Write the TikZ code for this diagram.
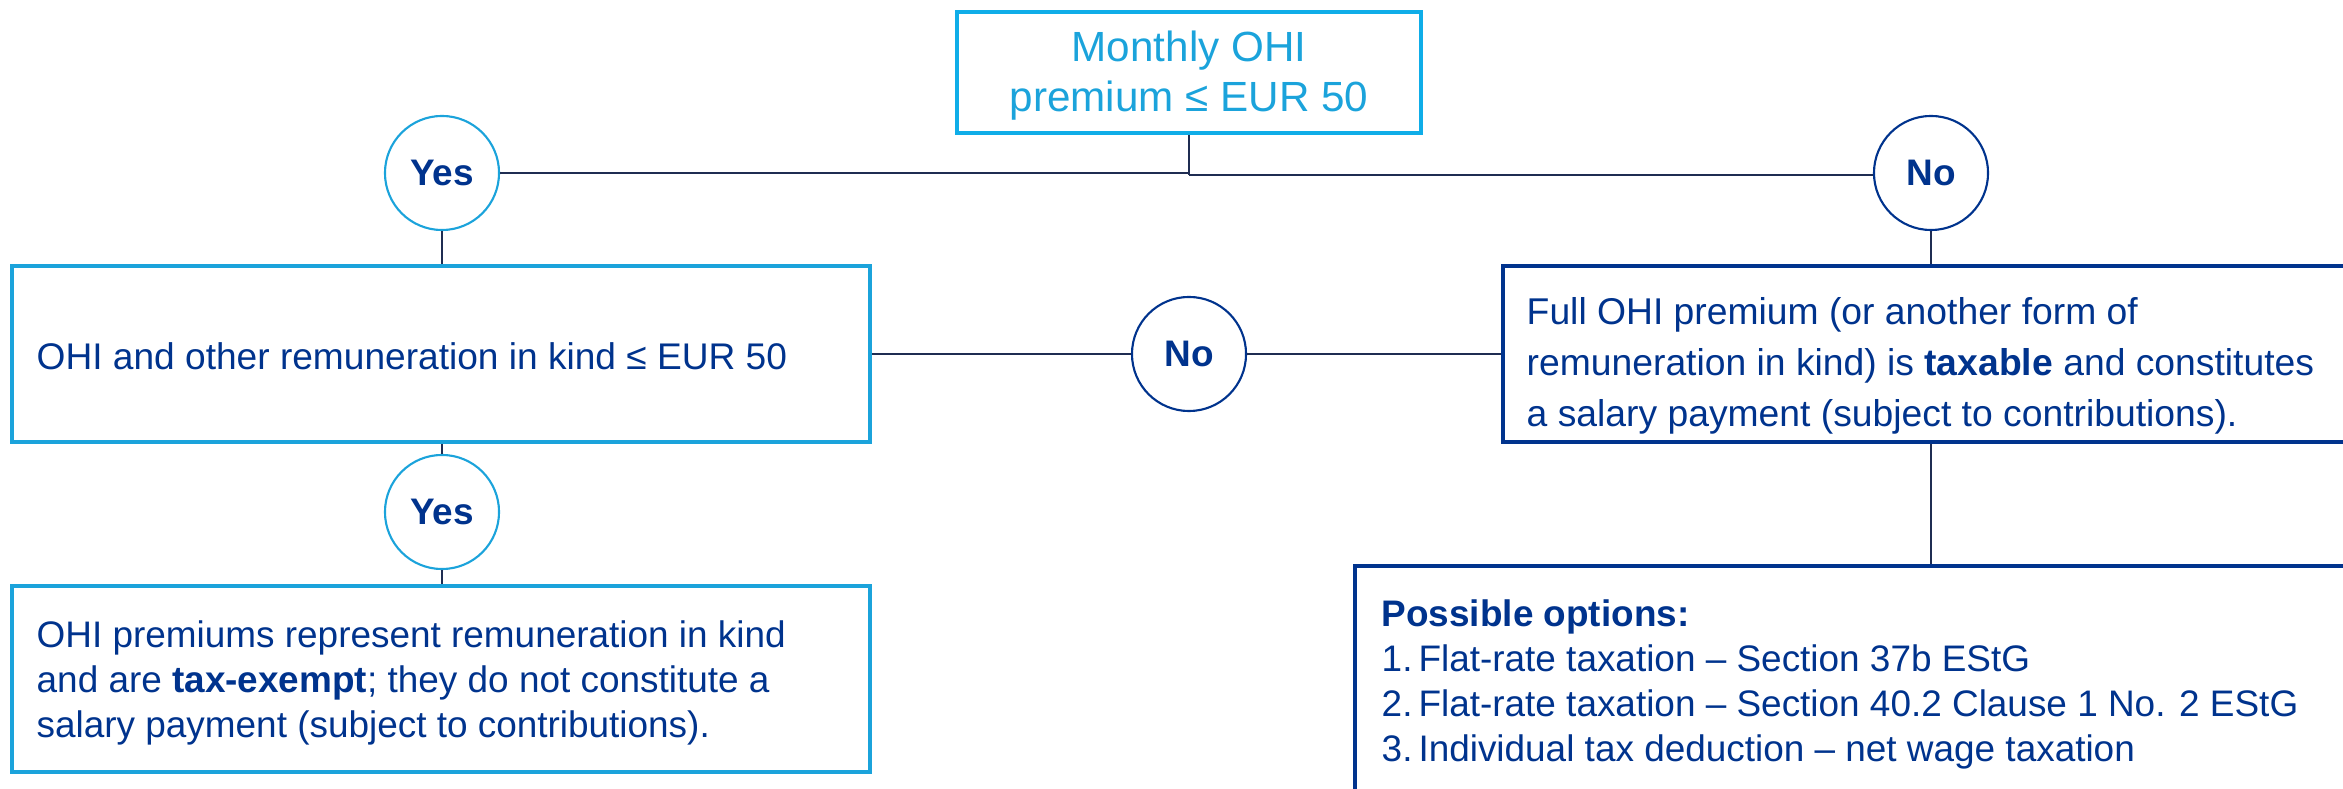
\documentclass[tikz,border=0pt]{standalone}
\usepackage{fontspec}
\setmainfont{Liberation Sans}
\definecolor{cyanb}{HTML}{1BA3DB}
\definecolor{cyant}{HTML}{0FADE8}
\definecolor{navy}{HTML}{00338D}
\definecolor{lineb}{HTML}{1F2D52}
\begin{document}
\begin{tikzpicture}[x=0.01cm,y=-0.01cm,
  boxc/.style={draw=cyanb, line width=1.15pt, rectangle, inner sep=0},
  boxn/.style={draw=navy, line width=1.15pt, rectangle, inner sep=0},
  circc/.style={circle, draw=cyanb, line width=0.6pt, minimum size=1.14cm, inner sep=0, font=\fontsize{10.5}{12}\selectfont\bfseries, text=navy, fill=white},
  circn/.style={circle, draw=navy, line width=0.6pt, minimum size=1.14cm, inner sep=0, font=\fontsize{10.5}{12}\selectfont\bfseries, text=navy, fill=white},
  conn/.style={draw=lineb, line width=0.6pt},
  txt/.style={text=navy, align=left, anchor=west, inner sep=0}
]
\useasboundingbox (0,0) rectangle (2343,789);
\begin{scope}
\clip (0,0) rectangle (2343,789);
% boxes
\node[draw=cyant, line width=1pt, rectangle, inner sep=0, minimum width=4.64cm, minimum height=1.21cm] (top) at (1189,72.5) {};
\node[text=cyanb, align=center, inner sep=0, font=\fontsize{12}{14.2}\selectfont] (toptxt) at (1189,76) {Monthly OHI\\premium ≤ EUR 50};
\node[boxc, minimum width=8.58cm, minimum height=1.76cm] (box1) at (441,354) {};
\node[txt, font=\fontsize{10.55}{14.5}\selectfont] (box1txt) at (36,356) {OHI and other remuneration in kind ≤ EUR 50};
\node[boxn, minimum width=8.70cm, minimum height=1.76cm] (box2) at (1938,354) {};
\node[txt, font=\fontsize{10.6}{14.5}\selectfont] (box2txt) at (1526,366) {Full OHI premium (or another form of\\remuneration in kind) is \textbf{taxable} and constitutes\\a salary payment (subject to contributions).};
\node[boxc, minimum width=8.58cm, minimum height=1.86cm] (box4) at (441,679) {};
\node[txt, font=\fontsize{10.5}{12.7}\selectfont] (box4txt) at (36,683) {OHI premiums represent remuneration in kind\\and are \textbf{tax-exempt}; they do not constitute a\\salary payment (subject to contributions).};
\node[boxn, minimum width=10.15cm, minimum height=2.54cm] (box3) at (1862.5,693) {};
\node[txt, font=\fontsize{10.5}{12.8}\selectfont] (box3txt) at (1381,684) {\textbf{Possible options:}\\1.\hspace{0.06cm}Flat-rate taxation – Section 37b EStG\\2.\hspace{0.06cm}Flat-rate taxation – Section 40.2 Clause 1 No. 2 EStG\\3.\hspace{0.06cm}Individual tax deduction – net wage taxation};
% circles
\node[circc] (yes1) at (442,173) {Yes};
\node[circn] (no1) at (1931,173) {No};
\node[circn] (no2) at (1189,354) {No};
\node[circc] (yes2) at (442,512) {Yes};
\coordinate (j) at (1189,175);
% connectors
\draw[conn] (top.south) -- (j);
\draw[conn] (yes1.east) -- (yes1.east -| j);
\draw[conn] (j) -- (j -| no1.west);
\draw[conn] (yes1.south) -- (yes1.south |- box1.north);
\draw[conn] (no1.south) -- (no1.south |- box2.north);
\draw[conn] (box1.east) -- (no2.west);
\draw[conn] (no2.east) -- (box2.west);
\draw[conn] (yes2.north |- box1.south) -- (yes2.north);
\draw[conn] (yes2.south) -- (yes2.south |- box4.north);
\draw[conn] (no1.south |- box2.south) -- (no1.south |- box3.north);
\end{scope}
\end{tikzpicture}
\end{document}
